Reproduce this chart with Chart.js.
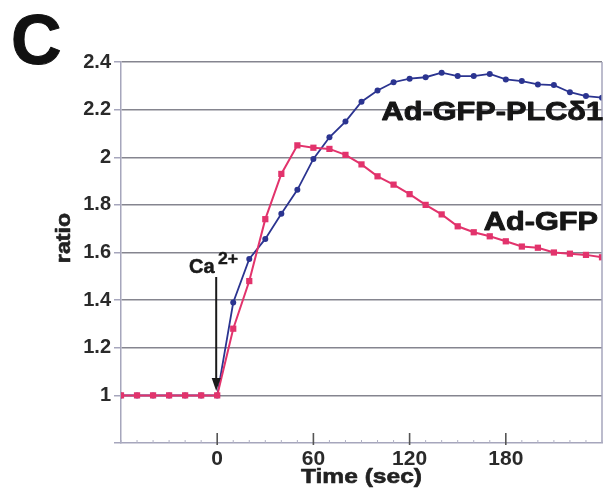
<!DOCTYPE html>
<html><head><meta charset="utf-8">
<script src="https://cdn.jsdelivr.net/npm/chart.js@4"></script>
<style>html,body{margin:0;padding:0;background:#fff}#wrap{width:614px;height:493px;position:relative}</style>
</head><body><div id="wrap"><canvas id="c" width="614" height="493"></canvas></div>
<script>
const times = [-60,-50,-40,-30,-20,-10,0,10,20,30,40,50,60,70,80,90,100,110,120,130,140,150,160,170,180,190,200,210,220,230,240];
const adGFP = [1,1,1,1,1,1,1,1.28,1.48,1.74,1.93,2.05,2.04,2.035,2.01,1.97,1.92,1.885,1.845,1.80,1.76,1.71,1.685,1.668,1.647,1.625,1.62,1.60,1.595,1.59,1.58];
const adGFPPLC = [1,1,1,1,1,1,1,1.39,1.573,1.657,1.763,1.863,1.993,2.084,2.15,2.233,2.28,2.315,2.33,2.336,2.355,2.341,2.341,2.35,2.327,2.32,2.306,2.303,2.273,2.257,2.25];
const xLabels = [0,60,120,180];
const yTicks = [0.8,1,1.2,1.4,1.6,1.8,2,2.2,2.4];

const RED = '#e2336c', BLUE = '#2b3490';
const FONT = '"Liberation Sans", Arial, Helvetica, sans-serif';

function txt(ctx, s, x, y, size, align, sx, color, thick) {
  ctx.save();
  ctx.font = 'bold ' + size + 'px ' + FONT;
  ctx.fillStyle = color; ctx.strokeStyle = color;
  ctx.textAlign = 'left'; ctx.textBaseline = 'alphabetic';
  const w = ctx.measureText(s).width * sx;
  let x0 = x;
  if (align === 'center') x0 = x - w/2; else if (align === 'right') x0 = x - w;
  ctx.translate(x0, y); ctx.scale(sx, 1);
  ctx.fillText(s, 0, 0);
  if (thick) { ctx.lineWidth = thick; ctx.lineJoin = 'round'; ctx.strokeText(s, 0, 0); }
  ctx.restore();
}

const deco = {
  id:'deco',
  afterDraw(chart){
    const ctx = chart.ctx, xs = chart.scales.x, a = chart.chartArea;
    ctx.save();
    ctx.strokeStyle = '#a6a6bc'; ctx.lineWidth = 1.5;
    ctx.beginPath(); ctx.moveTo(a.right, a.top); ctx.lineTo(a.right, a.bottom); ctx.stroke();
    for (let t = -60; t <= 240; t += 10) {
      const px = xs.getPixelForValue(t);
      const major = xLabels.includes(t);
      ctx.strokeStyle = major ? '#555' : '#b0b0c4';
      ctx.lineWidth = major ? 1.6 : 1;
      ctx.beginPath(); ctx.moveTo(px, a.bottom + (major?2:0)); ctx.lineTo(px, a.bottom - (major ? 10 : 3)); ctx.stroke();
    }
    ctx.restore();
    txt(ctx, 'C', 11, 64, 70, 'left', 1.0, '#111', 1);
    ctx.save();
    ctx.translate(70, 238); ctx.rotate(-Math.PI/2);
    txt(ctx, 'ratio', 0, 0, 20, 'center', 1.16, '#222', 0.6);
    ctx.restore();
    txt(ctx, 'Time (sec)', (a.left + a.right)/2, 483, 21, 'center', 1.17, '#222', 0.6);
    txt(ctx, 'Ad-GFP-PLC\u03B41', 603, 120, 26, 'right', 1.18, '#161616', 0.9);
    txt(ctx, 'Ad-GFP', 598, 230, 26, 'right', 1.18, '#161616', 0.9);
    txt(ctx, 'Ca', 189, 273, 20, 'left', 1.0, '#1a1a1a', 0.5);
    txt(ctx, '2+', 218, 264, 16, 'left', 1.1, '#1a1a1a', 0.4);
    const ax = xs.getPixelForValue(0) - 1;
    ctx.save();
    ctx.strokeStyle = '#1a1a1a'; ctx.fillStyle = '#1a1a1a'; ctx.lineWidth = 2;
    ctx.beginPath(); ctx.moveTo(ax, 277); ctx.lineTo(ax, 380); ctx.stroke();
    ctx.beginPath(); ctx.moveTo(ax - 4.5, 378); ctx.lineTo(ax + 4.5, 378); ctx.lineTo(ax, 391); ctx.closePath(); ctx.fill();
    ctx.restore();
  }
};

new Chart(document.getElementById('c'), {
  type:'line',
  data:{
    datasets:[
      {label:'Ad-GFP-PLCδ1', data: times.map((t,i)=>({x:t,y:adGFPPLC[i]})), borderColor:BLUE, backgroundColor:BLUE,
       borderWidth:1.8, pointStyle:'circle', pointRadius:3, pointBorderWidth:0, tension:0, order:2},
      {label:'Ad-GFP', data: times.map((t,i)=>({x:t,y:adGFP[i]})), borderColor:RED, backgroundColor:RED,
       borderWidth:2, pointStyle:'rect', pointRadius:4.4, pointBorderWidth:0, tension:0, order:1}
    ]
  },
  options:{
    responsive:false, animation:false, devicePixelRatio:1,
    layout:{padding:{top:62, right:12, left:0, bottom:0}},
    plugins:{legend:{display:false}, tooltip:{enabled:false}},
    scales:{
      x:{type:'linear', min:-60, max:240,
        afterFit(s){ s.height = 50; },
        afterBuildTicks(s){ s.ticks = xLabels.map(v=>({value:v})); },
        ticks:{autoSkip:false, maxRotation:0, padding:4, color:'#2a2a2a', font:{family:FONT, size:21, weight:'bold'}},
        grid:{drawOnChartArea:false, drawTicks:false},
        border:{display:true, color:'#a6a6bc', width:1.5}
      },
      y:{type:'linear', min:0.8, max:2.4,
        afterFit(s){ s.width = 121; },
        afterBuildTicks(s){ s.ticks = yTicks.map(v=>({value:v})); },
        ticks:{padding:3, color:'#2a2a2a', font:{family:FONT, size:20, weight:'bold'},
          callback:(v)=> Math.abs(v-0.8)<1e-6 ? '' : String(+v.toFixed(1))},
        grid:{color:(c)=> (c.tick && Math.abs(c.tick.value-0.8)<1e-6) ? 'rgba(0,0,0,0)' : '#85858f', lineWidth:1.5, tickLength:7, tickColor:'#a6a6bc'},
        border:{display:true, color:'#a6a6bc', width:1.5}
      }
    }
  },
  plugins:[deco]
});
</script></body></html>
